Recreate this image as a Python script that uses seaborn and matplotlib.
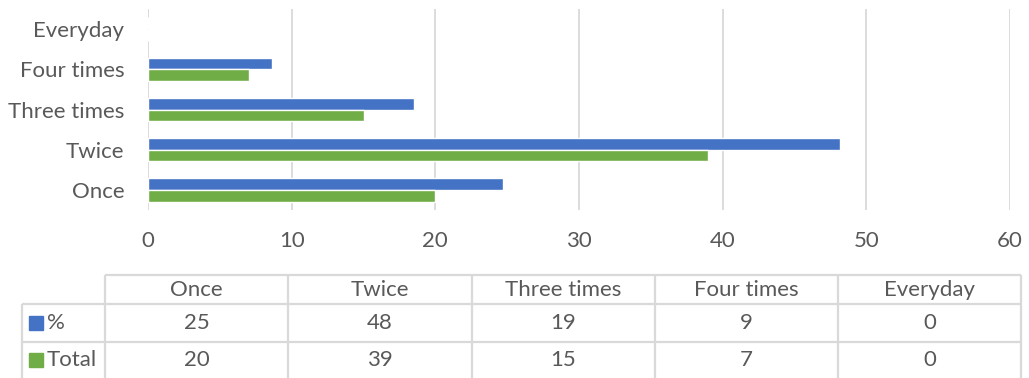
import matplotlib
matplotlib.use("Agg")
import matplotlib.pyplot as plt
from matplotlib.patches import Rectangle
import pandas as pd
import seaborn as sns

# Frequency categories as listed in the table (left to right)
categories = ["Once", "Twice", "Three times", "Four times", "Everyday"]
pct_values = [24.69, 48.15, 18.52, 8.64, 0.0]
total_values = [20, 39, 15, 7, 0]
series_names = ["%", "Total"]
x_ticks = [0, 10, 20, 30, 40, 50, 60]

BLUE = "#4472C4"
GREEN = "#70AD47"
TEXT = "#595959"
GRID = "#D9D9D9"

sns.set_theme(style="white")
plt.rcParams["font.family"] = ["Lato", "DejaVu Sans"]

W, H = 1029, 378
fig = plt.figure(figsize=(W / 100, H / 100), dpi=100)
fig.patch.set_facecolor("white")

df = pd.DataFrame({
    "category": categories * 2,
    "value": pct_values + total_values,
    "series": [series_names[0]] * len(categories) + [series_names[1]] * len(categories),
})

fs = 16

# Bar chart area (pixel box converted to figure fractions)
left, right, top, bottom = 148, 1010, 9, 210
ax = fig.add_axes([left / W, 1 - bottom / H, (right - left) / W, (bottom - top) / H])
sns.barplot(
    data=df, y="category", x="value", hue="series",
    order=categories[::-1], hue_order=series_names,
    palette=[BLUE, GREEN], orient="h", width=0.58,
    saturation=1, ax=ax, legend=False,
)
ax.set_xlim(0, 60)
ax.set_xticks(x_ticks)
ax.set_xlabel("")
ax.set_ylabel("")
for s in ax.spines.values():
    s.set_visible(False)
ax.grid(False)
for xv in x_ticks:
    ax.axvline(xv, color=GRID, lw=1.3, zorder=0)
ax.tick_params(axis="both", length=0, labelsize=fs, colors=TEXT)
ax.tick_params(axis="x", pad=15)
ax.tick_params(axis="y", pad=17)

# Data table drawn in pixel coordinates
tab = fig.add_axes([0, 0, 1, 1])
tab.set_xlim(0, W)
tab.set_ylim(H, 0)
tab.axis("off")

col_edges = [105, 288, 472, 655, 838, 1021]
label_left = 22
row_edges = [275, 304, 342, 380]
lc = dict(color=GRID, lw=1.6, solid_capstyle="butt")

# horizontal rules
tab.plot([col_edges[0], col_edges[-1]], [row_edges[0]] * 2, **lc)
for yv in row_edges[1:]:
    tab.plot([label_left, col_edges[-1]], [yv] * 2, **lc)
# vertical rules
tab.plot([label_left] * 2, [row_edges[1], row_edges[-1]], **lc)
for xv in col_edges:
    tab.plot([xv] * 2, [row_edges[0], row_edges[-1]], **lc)

for i, cat in enumerate(categories):
    cx = (col_edges[i] + col_edges[i + 1]) / 2
    tab.text(cx, (row_edges[0] + row_edges[1]) / 2, cat, ha="center", va="center",
             fontsize=fs, color=TEXT)
    tab.text(cx, (row_edges[1] + row_edges[2]) / 2, f"{pct_values[i]:.0f}",
             ha="center", va="center", fontsize=fs, color=TEXT)
    tab.text(cx, (row_edges[2] + row_edges[3]) / 2 - 1, f"{total_values[i]:.0f}",
             ha="center", va="center", fontsize=fs, color=TEXT)

for r, (name, col) in enumerate(zip(series_names, [BLUE, GREEN])):
    cy = (row_edges[r + 1] + row_edges[r + 2]) / 2 - (1 if r == 1 else 0)
    tab.add_patch(Rectangle((29, cy - 7), 14, 14, color=col))
    tab.text(47, cy, name, ha="left", va="center", fontsize=fs, color=TEXT)

fig.savefig("out.png", dpi=100, facecolor="white")
